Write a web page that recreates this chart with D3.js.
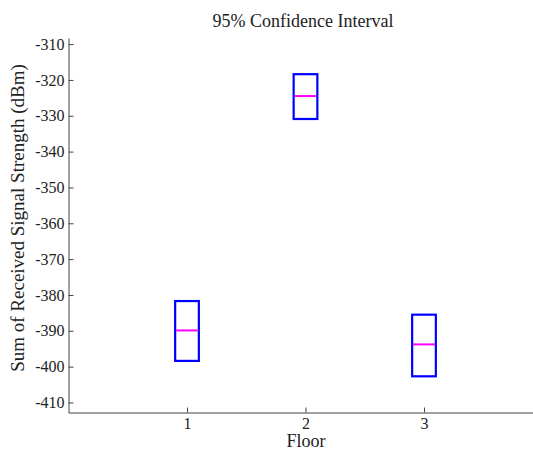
<!DOCTYPE html>
<meta charset="utf-8">
<style>
body { margin: 0; background: #fff; }
.axis path, .axis line { stroke: #444; }
</style>
<body>
<div id="chart"></div>
<script src="https://cdn.jsdelivr.net/npm/d3@7/dist/d3.min.js"></script>
<script>
// confidence interval per floor
var floors = [1, 2, 3];
var upper = [-381.7, -318.4, -385.5];
var lower = [-398.4, -330.9, -402.7];
var middle = [-389.9, -324.5, -393.8];
var yTicks = [-310, -320, -330, -340, -350, -360, -370, -380, -390, -400, -410];

var FONT = "'Liberation Serif', 'Times New Roman', Times, serif";
var W = 533, H = 453;
var svg = d3.select('#chart').append('svg')
  .attr('width', W).attr('height', H)
  .attr('font-family', FONT);

var x = d3.scaleLinear().domain([0, 4]).range([68.5, 542.5]);
var y = d3.scaleLinear().domain([-412.8, -308.3]).range([412.5, 38]);
var fmt = function(d) { return String(d); };

var xAxis = svg.append('g').attr('class', 'axis')
  .attr('transform', 'translate(0,' + y.range()[0] + ')')
  .call(d3.axisBottom(x).tickValues(floors).tickFormat(fmt).tickSizeInner(-5).tickSizeOuter(0).tickPadding(5));

var yAxis = svg.append('g').attr('class', 'axis')
  .attr('transform', 'translate(' + x.range()[0] + ',0)')
  .call(d3.axisLeft(y).tickValues(yTicks).tickFormat(fmt).tickSizeInner(-5).tickSizeOuter(0).tickPadding(4));

svg.selectAll('.axis')
  .attr('font-family', FONT)
  .attr('font-size', 16);
svg.selectAll('.axis .tick text').attr('fill', '#222');

var bw = x(0.1) - x(0);
var g = svg.append('g');
floors.forEach(function(f, i) {
  g.append('rect')
    .attr('x', x(f) - bw)
    .attr('y', y(upper[i]))
    .attr('width', bw * 2)
    .attr('height', y(lower[i]) - y(upper[i]))
    .attr('fill', 'none')
    .attr('stroke', '#0000ff')
    .attr('stroke-width', 2.2);
  g.append('line')
    .attr('x1', x(f) - bw + 1).attr('x2', x(f) + bw - 1)
    .attr('y1', y(middle[i])).attr('y2', y(middle[i]))
    .attr('stroke', '#ff00ff')
    .attr('stroke-width', 2);
});

svg.append('text')
  .attr('x', 303).attr('y', 27)
  .attr('text-anchor', 'middle')
  .attr('font-size', 18)
  .attr('fill', '#222')
  .text('95% Confidence Interval');

svg.append('text')
  .attr('x', 306).attr('y', 447)
  .attr('text-anchor', 'middle')
  .attr('font-size', 18)
  .attr('fill', '#222')
  .text('Floor');

svg.append('text')
  .attr('transform', 'translate(24,' + 218 + ') rotate(-90)')
  .attr('text-anchor', 'middle')
  .attr('font-size', 19)
  .attr('fill', '#222')
  .text('Sum of Received Signal Strength (dBm)');
</script>
</body>
